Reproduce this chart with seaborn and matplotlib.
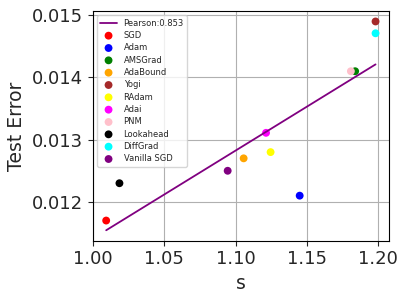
import numpy as np
import matplotlib
matplotlib.use("Agg")
import matplotlib.pyplot as plt
import seaborn as sns

methods = ["SGD", "Adam", "AMSGrad", "AdaBound", "Yogi", "RAdam", "Adai",
           "PNM", "Lookahead", "DiffGrad", "Vanilla SGD"]
colors = ["red", "blue", "green", "orange", "brown", "yellow", "magenta",
          "pink", "black", "cyan", "purple"]
s_vals = [1.0093, 1.1450, 1.1839, 1.1057, 1.1982, 1.1246, 1.1214,
          1.1809, 1.0186, 1.1982, 1.0945]
err_vals = [0.01170, 0.01210, 0.01410, 0.01270, 0.01490, 0.01280, 0.01311,
            0.01410, 0.01230, 0.01471, 0.01250]
pearson_label = "Pearson:0.853"

sns.set_style("white")
plt.rcParams['font.family'] = ['DejaVu Sans']

fig = plt.figure(figsize=(4.07, 2.98), dpi=100)
ax = fig.add_axes([0.2278, 0.1923, 0.7280, 0.7707])

xs = np.array(s_vals)
ys = np.array(err_vals)
k, b = np.polyfit(xs, ys, 1)
line_x = np.array([xs.min(), xs.max()])
sns.lineplot(x=line_x, y=k * line_x + b, color="purple", lw=1.3,
             label=pearson_label, ax=ax)
for m, c, xv, yv in zip(methods, colors, s_vals, err_vals):
    sns.scatterplot(x=[xv], y=[yv], color=c, s=32, edgecolor="none",
                    label=m, ax=ax)

ax.grid(True, color="#b0b0b0", lw=0.8)
for sp in ax.spines.values():
    sp.set_color("black")
    sp.set_linewidth(0.8)
ax.tick_params(axis="both", labelsize=13, length=3.5, width=0.8,
               direction="out", left=True, bottom=True)
ax.set_xticks([1.00, 1.05, 1.10, 1.15, 1.20])
ax.set_xticklabels(["1.00", "1.05", "1.10", "1.15", "1.20"])
ax.set_yticks([0.012, 0.013, 0.014, 0.015])
ax.set_yticklabels(["0.012", "0.013", "0.014", "0.015"])
ax.set_xlabel("s", fontsize=13.5)
ax.set_ylabel("Test Error", fontsize=13.5)
ax.legend(loc="upper left", fontsize=6, labelspacing=0.4)

fig.savefig("out.png", dpi=100)
